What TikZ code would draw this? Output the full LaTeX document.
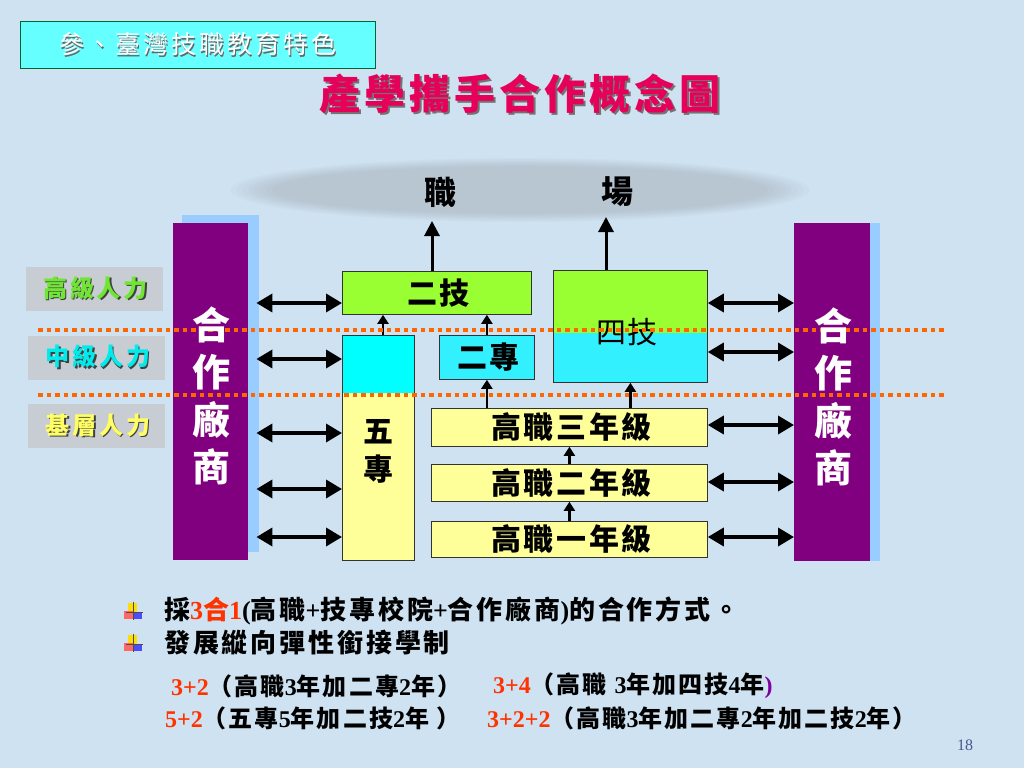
\documentclass[tikz,border=0pt]{standalone}
\usepackage{fontspec}
\setmainfont{Liberation Serif}
\newfontfamily\cjk{Noto Sans CJK TC}
\newfontfamily\lat{Liberation Serif}
\usetikzlibrary{arrows.meta}
\definecolor{bg}{RGB}{206,226,241}
\definecolor{hdrcyan}{RGB}{102,255,255}
\definecolor{hdrborder}{RGB}{0,102,51}
\definecolor{titlepink}{RGB}{230,0,90}
\definecolor{ellgray}{RGB}{150,155,160}
\definecolor{lblgray}{RGB}{200,205,212}
\definecolor{higreen}{RGB}{110,230,50}
\definecolor{midcyan}{RGB}{0,235,235}
\definecolor{lowyellow}{RGB}{255,255,100}
\definecolor{barpurple}{RGB}{128,0,128}
\definecolor{barblue}{RGB}{153,204,255}
\definecolor{boxgreen}{RGB}{153,255,51}
\definecolor{boxcyan}{RGB}{0,255,255}
\definecolor{boxcyanb}{RGB}{51,240,255}
\definecolor{boxyellow}{RGB}{255,255,153}
\definecolor{dotorange}{RGB}{255,102,0}
\definecolor{numred}{RGB}{255,51,0}
\definecolor{pagecol}{RGB}{70,90,140}
\definecolor{parpurple}{RGB}{128,0,160}
\newcommand{\shtx}[3]{\makebox[0pt][l]{\raisebox{-#2}{\hspace*{#2}\textcolor{#1}{#3}}}#3}
\tikzset{
  box/.style={draw=black!80, line width=0.8pt, inner sep=0pt, anchor=north west},
  bar/.style={fill=barpurple, inner sep=0pt, anchor=north west},
  barsh/.style={fill=barblue, inner sep=0pt, anchor=north west},
  dbl/.style={line width=3.5pt, {Triangle[length=16pt,width=18pt]}-{Triangle[length=16pt,width=18pt]}},
  upA/.style={line width=2.3pt, -{Triangle[length=9pt,width=11pt]}},
  bigup/.style={line width=3pt, -{Triangle[length=15pt,width=15pt]}},
  dotline/.style={draw=dotorange, line width=4.5pt, dash pattern=on 4.5pt off 4pt},
  boxtxt/.style={font=\cjk\bfseries\addfontfeature{LetterSpace=9}\fontsize{30}{30}\selectfont},
  lbl/.style={fill=lblgray, inner sep=0pt, minimum width=137pt, minimum height=44pt},
  lbltxt/.style={font=\cjk\bfseries\addfontfeature{LetterSpace=12}\fontsize{24}{24}\selectfont, inner sep=0pt},
  bartxt/.style={font=\cjk\bfseries\fontsize{38}{47.5}\selectfont, text=white, align=center, inner sep=0pt},
  btxt/.style={anchor=west, inner sep=0pt, font=\cjk\bfseries\addfontfeature{LetterSpace=11}\fontsize{26}{26}\selectfont},
  stxt/.style={anchor=west, inner sep=0pt, font=\cjk\bfseries\addfontfeature{LetterSpace=8.5}\fontsize{24}{24}\selectfont}
}
\newcommand{\nr}[1]{{\lat\bfseries\color{numred}#1}}
\newcommand{\latb}[1]{{\lat\bfseries #1}}
\begin{document}
\begin{tikzpicture}[x=1pt,y=-1pt]
\useasboundingbox (0,0) rectangle (1024,768);
\fill[bg] (0,0) rectangle (1024,768);

% market ellipse (soft edged)
\foreach \i in {0,...,7} {
  \fill[ellgray, opacity=0.05] (520,190) ellipse ({290pt-6pt*\i} and {32pt-1.2pt*\i});
}

% header
\node[draw=hdrborder, line width=0.8pt, fill=hdrcyan, minimum width=355pt, minimum height=47pt, inner sep=0pt, anchor=north west] (hdr) at (20,21) {};
\node[font=\cjk\addfontfeature{LetterSpace=12}\fontsize{25}{25}\selectfont, text=white] (hdrtxt) at ([xshift=0pt]hdr.center) {\shtx{black!60}{1.5pt}{參、臺灣技職教育特色}};

% title
\node[font=\cjk\bfseries\addfontfeature{LetterSpace=10}\fontsize{41}{41}\selectfont, text=titlepink] (title) at (520,95) {\shtx{black!55}{2pt}{產學攜手合作概念圖}};

% workplace
\node[font=\cjk\bfseries\fontsize{32}{32}\selectfont] (zhi) at (440,192) {職};
\node[font=\cjk\bfseries\fontsize{32}{32}\selectfont] (chang) at (617,192) {場};
\coordinate (t1) at (432,221);
\coordinate (t2) at (606,217);

% level labels
\node[lbl] (hi) at (94,289) {};
\node[lbltxt, text=higreen] (hitxt) at ([xshift=1.5pt]hi.center) {\shtx{black!75}{1.5pt}{高級人力}};
\node[lbl] (mid) at (96.5,357.5) {};
\node[lbltxt, text=midcyan] (midtxt) at ([xshift=1.5pt]mid.center) {\shtx{black!75}{1.5pt}{中級人力}};
\node[lbl] (low) at (96.5,426) {};
\node[lbltxt, text=lowyellow] (lowtxt) at ([xshift=1.5pt]low.center) {\shtx{black!75}{1.5pt}{基層人力}};

% bars
\node[barsh, minimum width=77pt, minimum height=337pt] (lsh) at (182,215) {};
\node[bar, minimum width=75pt, minimum height=337pt] (lbar) at (173,223) {};
\node[barsh, minimum width=80pt, minimum height=338pt] (rsh) at (800,223) {};
\node[bar, minimum width=76pt, minimum height=338pt] (rbar) at (794,223) {};

% boxes
\node[box, fill=boxgreen, minimum width=189pt, minimum height=43pt] (erji) at (342,271) {};
\node[boxtxt] (erjitxt) at ([xshift=1.5pt]erji.center) {二技};
\node[box, fill=boxyellow, minimum width=72pt, minimum height=225pt,
  path picture={\fill[boxcyan] (path picture bounding box.north west) rectangle ([yshift=-58pt]path picture bounding box.north east);}] (wz) at (342,335) {};
\node[align=center, font=\cjk\bfseries\fontsize{30}{38}\selectfont] (wztxt) at (378,451) {五\\專};
\node[box, fill=boxcyanb, minimum width=95pt, minimum height=44pt] (ez) at (439,335) {};
\node[boxtxt] (eztxt) at ([xshift=1.5pt]ez.center) {二專};
\node[box, fill=boxgreen, minimum width=154pt, minimum height=112pt,
  path picture={\fill[boxcyanb] ([yshift=-63pt]path picture bounding box.north west) rectangle (path picture bounding box.south east);}] (sj) at (553,270) {};
\node[font=\cjk\addfontfeature{LetterSpace=6}\fontsize{30}{30}\selectfont] (sjtxt) at (627,332) {四技};
\node[box, fill=boxyellow, minimum width=276pt, minimum height=38pt] (g3) at (431,408) {};
\node[boxtxt] (g3txt) at ([xshift=2pt]g3.center) {高職三年級};
\node[box, fill=boxyellow, minimum width=276pt, minimum height=37pt] (g2) at (431,464) {};
\node[boxtxt] (g2txt) at ([xshift=2pt]g2.center) {高職二年級};
\node[box, fill=boxyellow, minimum width=276pt, minimum height=36pt] (g1) at (431,521) {};
\node[boxtxt] (g1txt) at ([xshift=2pt]g1.center) {高職一年級};

% vertical arrows
\draw[bigup] (t1 |- erji.north) -- (t1);
\draw[bigup] (t2 |- sj.north) -- (t2);
\draw[upA] ([xshift=41pt]wz.north west) -- ([xshift=41pt]wz.north west |- erji.south);
\draw[upA] (ez.north) -- (ez.north |- erji.south);
\draw[upA] (g3.north -| ez.south) -- (ez.south);
\draw[upA] (g3.north -| sj.south) -- (sj.south);
\draw[upA] (g2.north) -- (g3.south);
\draw[upA] (g1.north) -- (g2.south);

% double arrows
\foreach \yy in {303,359,433,489,537} {
  \path (0,\yy) coordinate (hh);
  \draw[dbl] ([xshift=-3pt]lsh.east |- hh) -- (wz.west |- hh);
}
\foreach \yy in {303,352,425,482,537} {
  \path (0,\yy) coordinate (hh);
  \draw[dbl] (sj.east |- hh) -- (rbar.west |- hh);
}

% dotted level lines
\draw[dotline] (38,330) -- (945,330);
\draw[dotline] (38,395) -- (945,395);

% bar texts
\node[bartxt] (ltxt) at (211,396) {合\\作\\廠\\商};
\node[bartxt] (rtxt) at (833,397) {合\\作\\廠\\商};

% bullets
\foreach \by/\bn in {612/b1,644/b2} {
  \fill[yellow!80!orange] (128,\by-9) rectangle (137,\by);
  \fill[red!60] (124,\by-1) rectangle (133,\by+7);
  \fill[blue!70] (133,\by) rectangle (142,\by+7);
  \draw[black!70, line width=1pt] (133,\by-10) -- (133,\by+8);
  \draw[black!70, line width=1pt] (126,\by+0.5) -- (143,\by+0.5);
  \coordinate (\bn) at (133,\by);
}

% bottom text
\node[btxt] (l1) at (164,611) {採\nr{3}{\color{numred}合}\nr{1}\latb{(}高職\latb{+}技專校院\latb{+}合作廠商\latb{)}的合作方式。};
\node[btxt] (l2) at (164,643) {發展縱向彈性銜接學制};
\node[stxt] (l3a) at (171,686) {\nr{3+2}（高職\latb{3}年加二專\latb{2}年）};
\node[stxt] (l3b) at (493,686) {\nr{3+4}（高職 \latb{3}年加四技\latb{4}年{\lat\color{parpurple})}};
\node[stxt] (l4a) at (165,718) {\nr{5+2}（五專\latb{5}年加二技\latb{2}年 ）};
\node[stxt] (l4b) at (487,718) {\nr{3+2+2}（高職\latb{3}年加二專\latb{2}年加二技\latb{2}年）};

\node[font=\lat\fontsize{16}{16}\selectfont, text=pagecol] (pg) at (965,745) {18};
\end{tikzpicture}
\end{document}
